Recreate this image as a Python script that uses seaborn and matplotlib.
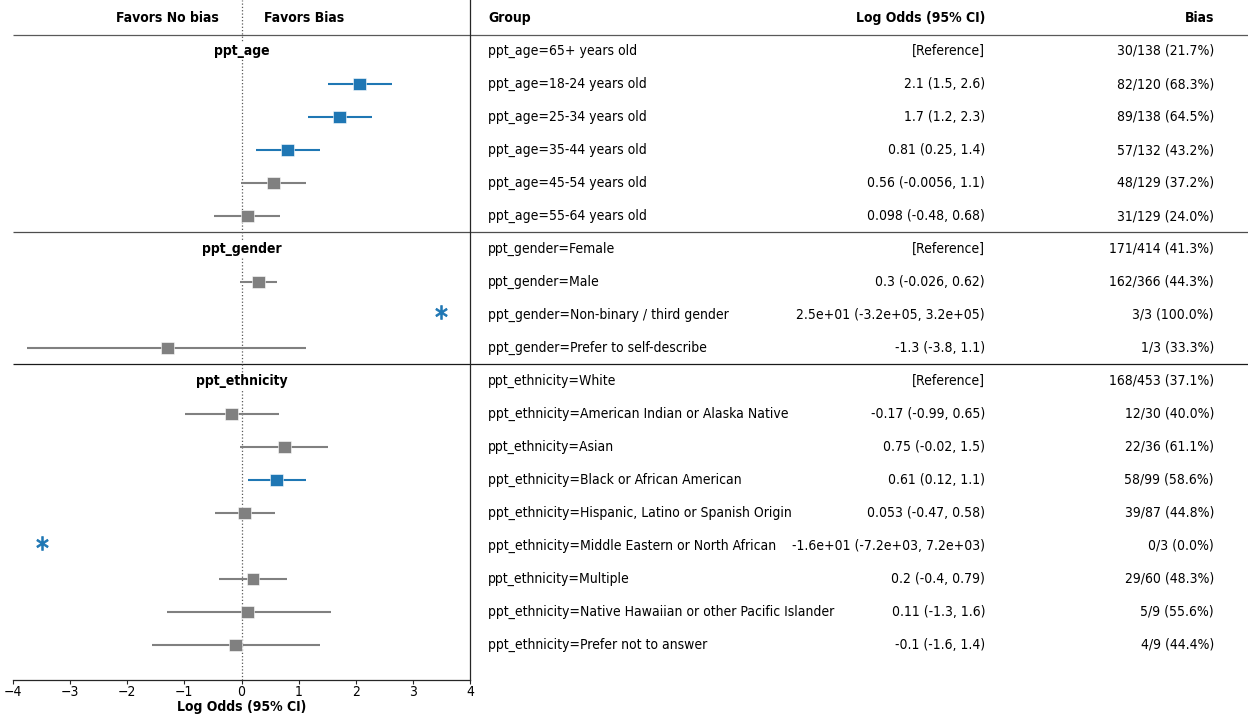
import numpy as np
import pandas as pd
import matplotlib
matplotlib.use("Agg")
import matplotlib.pyplot as plt
import seaborn as sns

# ---------------- data ----------------
variables = ["ppt_age"] * 6 + ["ppt_gender"] * 4 + ["ppt_ethnicity"] * 9
groups = [
    "ppt_age=65+ years old",
    "ppt_age=18-24 years old",
    "ppt_age=25-34 years old",
    "ppt_age=35-44 years old",
    "ppt_age=45-54 years old",
    "ppt_age=55-64 years old",
    "ppt_gender=Female",
    "ppt_gender=Male",
    "ppt_gender=Non-binary / third gender",
    "ppt_gender=Prefer to self-describe",
    "ppt_ethnicity=White",
    "ppt_ethnicity=American Indian or Alaska Native",
    "ppt_ethnicity=Asian",
    "ppt_ethnicity=Black or African American",
    "ppt_ethnicity=Hispanic, Latino or Spanish Origin",
    "ppt_ethnicity=Middle Eastern or North African",
    "ppt_ethnicity=Multiple",
    "ppt_ethnicity=Native Hawaiian or other Pacific Islander",
    "ppt_ethnicity=Prefer not to answer",
]
estimates = [np.nan, 2.06, 1.72, 0.81, 0.56, 0.098,
             np.nan, 0.30, 25.0, -1.30,
             np.nan, -0.17, 0.75, 0.61, 0.053, -16.0, 0.20, 0.11, -0.10]
ci_low = [np.nan, 1.51, 1.17, 0.25, -0.0056, -0.48,
          np.nan, -0.026, -3.2e5, -3.76,
          np.nan, -0.99, -0.02, 0.12, -0.47, -7.2e3, -0.40, -1.30, -1.57]
ci_high = [np.nan, 2.64, 2.29, 1.37, 1.13, 0.68,
           np.nan, 0.62, 3.2e5, 1.13,
           np.nan, 0.65, 1.52, 1.13, 0.58, 7.2e3, 0.79, 1.56, 1.37]
or_text = ["[Reference]", "2.1 (1.5, 2.6)", "1.7 (1.2, 2.3)", "0.81 (0.25, 1.4)",
           "0.56 (-0.0056, 1.1)", "0.098 (-0.48, 0.68)",
           "[Reference]", "0.3 (-0.026, 0.62)", "2.5e+01 (-3.2e+05, 3.2e+05)",
           "-1.3 (-3.8, 1.1)",
           "[Reference]", "-0.17 (-0.99, 0.65)", "0.75 (-0.02, 1.5)", "0.61 (0.12, 1.1)",
           "0.053 (-0.47, 0.58)", "-1.6e+01 (-7.2e+03, 7.2e+03)", "0.2 (-0.4, 0.79)",
           "0.11 (-1.3, 1.6)", "-0.1 (-1.6, 1.4)"]
bias_text = ["30/138 (21.7%)", "82/120 (68.3%)", "89/138 (64.5%)", "57/132 (43.2%)",
             "48/129 (37.2%)", "31/129 (24.0%)",
             "171/414 (41.3%)", "162/366 (44.3%)", "3/3 (100.0%)", "1/3 (33.3%)",
             "168/453 (37.1%)", "12/30 (40.0%)", "22/36 (61.1%)", "58/99 (58.6%)",
             "39/87 (44.8%)", "0/3 (0.0%)", "29/60 (48.3%)", "5/9 (55.6%)", "4/9 (44.4%)"]
xticks = [-4, -3, -2, -1, 0, 1, 2, 3, 4]

BLUE = "#1f77b4"
GRAY = "#808080"

df = pd.DataFrame({"var": variables, "group": groups, "est": estimates,
                   "lo": ci_low, "hi": ci_high})
df["row"] = np.arange(len(df))
df["sig"] = np.where((df["lo"] > 0) | (df["hi"] < 0), "sig", "ns")
XLIM = (-4, 4)
df["off"] = df["est"].abs() > XLIM[1]

# ---------------- figure ----------------
sns.set_theme(style="white")
plt.rcParams["font.family"] = ["DejaVu Sans"]
plt.rcParams["font.stretch"] = "condensed"
plt.rcParams["text.color"] = "black"
plt.rcParams["xtick.color"] = "black"
plt.rcParams["axes.labelcolor"] = "black"
FS = 10

W, H = 1248, 714
fig = plt.figure(figsize=(W / 100, H / 100), dpi=100)

bottom_px, top_px = 680, 0
ax_b = (H - bottom_px) / H
ax_h = (bottom_px - top_px) / H
row0_px, row_step = 51, 33
ylo = (top_px - row0_px) / row_step
yhi = (bottom_px - row0_px) / row_step

ov = fig.add_axes([0, ax_b, 1, ax_h])
ov.set_xlim(0, W)
ov.set_ylim(yhi, ylo)
ov.axis("off")

ax = fig.add_axes([13 / W, ax_b, (470 - 13) / W, ax_h])
ax.set_xlim(*XLIM)
ax.set_ylim(yhi, ylo)
ax.patch.set_alpha(0)

for y, c in [(-0.5, "0.35"), (5.5, "0.3"), (9.5, "0.1")]:
    ov.hlines(y, 13, W, color=c, lw=0.9)

ax.axvline(0, color="0.35", ls=":", lw=0.9, zorder=1)

plot_df = df[df["est"].notna() & ~df["off"]]
for _, r in plot_df.iterrows():
    ax.hlines(r["row"], r["lo"], r["hi"], color=BLUE if r["sig"] == "sig" else GRAY,
              lw=1.5, zorder=2)
sns.scatterplot(data=plot_df, x="est", y="row", hue="sig",
                palette={"sig": BLUE, "ns": GRAY}, marker="s", s=85,
                edgecolor="white", linewidth=0.4, legend=False, ax=ax, zorder=3)

for _, r in df[df["off"]].iterrows():
    ax.plot(np.sign(r["est"]) * 3.5, r["row"] - 0.1, marker=r"$\ast$", color=BLUE,
            markersize=10, markeredgewidth=0.5, ls="none", zorder=3)

for v in df["var"].unique():
    r0 = df.loc[df["var"] == v, "row"].min()
    ax.text(0, r0, v, ha="center", va="center", fontsize=FS, fontweight="bold",
            bbox=dict(facecolor="white", edgecolor="none", pad=1))

ax.text(-0.4, -1, "Favors No bias", ha="right", va="center", fontsize=FS, fontweight="bold")
ax.text(0.4, -1, "Favors Bias", ha="left", va="center", fontsize=FS, fontweight="bold")

ov.text(488, -1, "Group", ha="left", va="center", fontsize=FS, fontweight="bold")
ov.text(985, -1, "Log Odds (95% CI)", ha="right", va="center", fontsize=FS, fontweight="bold")
ov.text(1214, -1, "Bias", ha="right", va="center", fontsize=FS, fontweight="bold")
for i in range(len(df)):
    ov.text(488, i, groups[i], ha="left", va="center", fontsize=FS)
    ov.text(985, i, or_text[i], ha="right", va="center", fontsize=FS)
    ov.text(1214, i, bias_text[i], ha="right", va="center", fontsize=FS)

for s in ["top", "left"]:
    ax.spines[s].set_visible(False)
for s in ["right", "bottom"]:
    ax.spines[s].set_visible(True)
    ax.spines[s].set_color("0.15")
    ax.spines[s].set_linewidth(0.9)
ax.set_yticks([])
ax.set_xticks(xticks)
ax.tick_params(axis="x", direction="out", length=3, width=0.8, color="0.15",
               labelsize=FS, pad=0.5, bottom=True)
ax.set_ylabel("")
ax.set_xlabel("Log Odds (95% CI)", fontsize=FS, fontweight="bold", labelpad=1)

fig.savefig("out.png", dpi=100)
